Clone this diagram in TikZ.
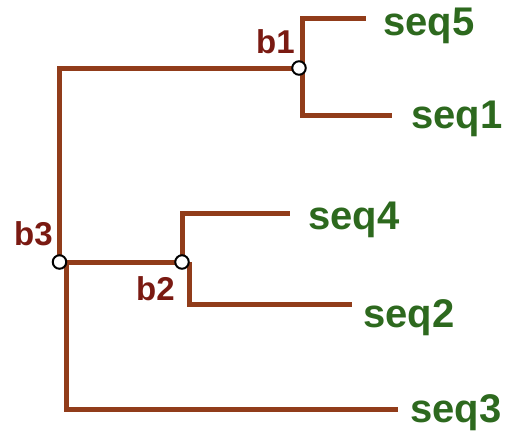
\documentclass[tikz,border=0pt]{standalone}
\usepackage{fontspec}
\setmainfont{Liberation Sans}
\definecolor{branch}{RGB}{145,60,26}
\definecolor{leaf}{RGB}{45,105,30}
\definecolor{inner}{RGB}{122,26,18}
\tikzset{
  br/.style={draw=branch, line width=5pt, line join=miter},
  knot/.style={circle, draw=black, fill=white, line width=2pt, minimum size=13.5pt, inner sep=0pt},
  leaflabel/.style={anchor=base west, inner sep=0pt, text=leaf, font=\fontsize{40}{40}\selectfont\bfseries},
  innerlabel/.style={anchor=base west, inner sep=0pt, text=inner, font=\fontsize{33}{33}\selectfont\bfseries}
}
\begin{document}
\begin{tikzpicture}[x=1pt,y=-1pt]
\useasboundingbox (0,0) rectangle (510,434);
% leaf line ends
\coordinate (c5) at (366,18);
\coordinate (c1) at (392,115);
\coordinate (c4) at (290,213);
\coordinate (c2) at (352,304);
\coordinate (c3) at (398,409);
% branch lines (drawn first, knots on top)
\path (299,68) coordinate (p1) (182,262) coordinate (p2) (59.5,262) coordinate (p3);
\draw[br] ([xshift=3pt]p1) |- (c5);
\draw[br] ([xshift=3pt]p1) |- (c1);
\draw[br] (p3) |- (p1);
\draw[br] (p3) -- (p2);
\draw[br] (p2) |- (c4);
\draw[br] ([xshift=7pt]p2) |- (c2);
\draw[br] ([xshift=6.5pt]p3) |- (c3);
% knots
\node[knot] (b1) at (p1) {};
\node[knot] (b2) at (p2) {};
\node[knot] (b3) at (p3) {};
% labels
\node[innerlabel] (lb1) at (256,53) {b1};
\node[innerlabel] (lb2) at (136,300) {b2};
\node[innerlabel] (lb3) at (14,245) {b3};
\node[leaflabel] (s5) at (383,35) {seq5};
\node[leaflabel] (s1) at (411,128) {seq1};
\node[leaflabel] (s4) at (308,229) {seq4};
\node[leaflabel] (s2) at (363,327) {seq2};
\node[leaflabel] (s3) at (410,422) {seq3};
\end{tikzpicture}
\end{document}
